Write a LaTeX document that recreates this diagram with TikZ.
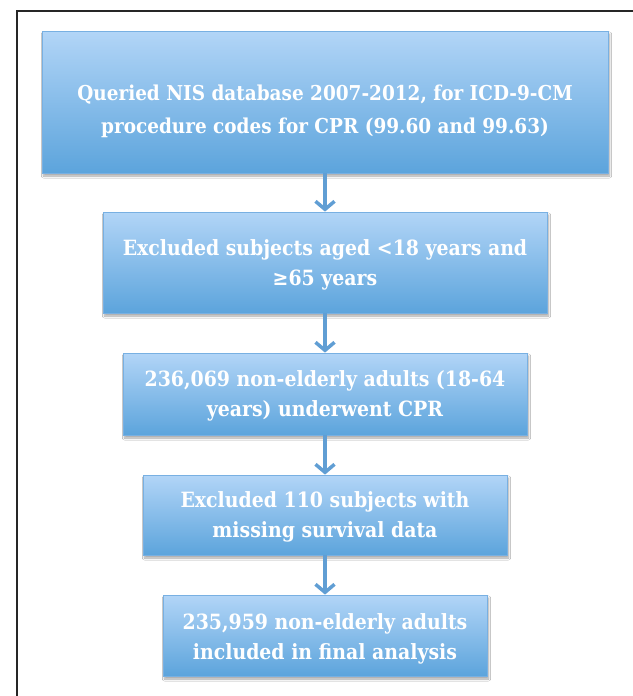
\documentclass[tikz,border=0pt]{standalone}
\usepackage{fontspec}
\setmainfont{DejaVu Serif Condensed}
\usetikzlibrary{arrows.meta,shadows.blur}
\definecolor{boxtop}{RGB}{178,213,247}
\definecolor{boxbot}{RGB}{92,164,220}
\definecolor{boxedge}{RGB}{120,176,226}
\definecolor{arrowc}{RGB}{96,158,212}
\tikzset{
  flowbox/.style={rectangle, draw=boxedge, line width=0.8pt,
    top color=boxtop, bottom color=boxbot,
    blur shadow={shadow xshift=1.5pt, shadow yshift=-3pt, shadow blur steps=6, shadow opacity=35},
    inner sep=0pt},
  flowtext/.style={text=white, font=\bfseries\fontsize{21}{30}\selectfont, align=center},
  flowarrow/.style={draw=arrowc, line width=3.5pt,
    -{Straight Barb[length=8pt,width=19pt,line width=3.5pt]}}
}
\begin{document}
\begin{tikzpicture}[x=1pt,y=-1pt]
\useasboundingbox (0,0) rectangle (632,696);
\fill[white] (0,0) rectangle (632,696);
\draw[line width=1.5pt, black!85] (17,700) -- (17,11) -- (640,11);

\node[flowbox, minimum width=566pt, minimum height=142pt] (b1) at (325,102) {};
\node[flowtext, font=\bfseries\fontsize{20.5}{33}\selectfont] (t1) at (325,111)
  {Queried NIS database 2007-2012, for ICD-9-CM\\procedure codes for CPR (99.60 and 99.63)};

\node[flowbox, minimum width=444pt, minimum height=101pt] (b2) at (325,262.5) {};
\node[flowtext] (t2) at (325,265) {Excluded subjects aged <18 years and\\≥65 years};

\node[flowbox, minimum width=404pt, minimum height=82pt] (b3) at (325,394) {};
\node[flowtext] (t3) at (325,396) {236,069 non-elderly adults (18-64\\years) underwent CPR};

\node[flowbox, minimum width=364pt, minimum height=80pt] (b4) at (325,515) {};
\node[flowtext] (t4) at (325,517) {Excluded 110 subjects with\\missing survival data};

\node[flowbox, minimum width=324pt, minimum height=81pt] (b5) at (325,635.5) {};
\node[flowtext] (t5) at (325,639) {235,959 non-elderly adults\\included in final analysis};

\draw[flowarrow] (b1.south) -- (b2.north);
\draw[flowarrow] (b2.south) -- (b3.north);
\draw[flowarrow] (b3.south) -- (b4.north);
\draw[flowarrow] (b4.south) -- (b5.north);
\end{tikzpicture}
\end{document}
